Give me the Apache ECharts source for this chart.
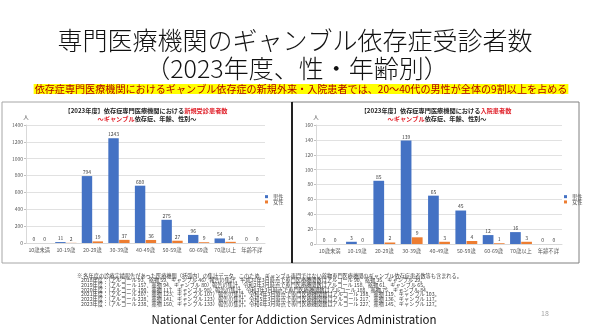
<!DOCTYPE html>
<html><head><meta charset="utf-8">
<script src="https://cdn.jsdelivr.net/npm/echarts@6/dist/echarts.min.js"></script>
<style>html,body{margin:0;padding:0;background:#fff}#c{width:590px;height:331px}</style>
</head><body><div id="c"></div>
<script>
// Age groups shared by both charts
const categories = ['10歳未満', '10-19歳', '20-29歳', '30-39歳', '40-49歳', '50-59歳', '60-69歳', '70歳以上', '年齢不詳'];

// New outpatients (新規受診患者数)
const outpatientMale = [0, 11, 794, 1243, 680, 275, 96, 54, 0];
const outpatientFemale = [0, 2, 19, 37, 36, 27, 9, 14, 0];

// Inpatients (入院患者数)
const inpatientMale = [0, 3, 85, 139, 65, 45, 12, 16, 0];
const inpatientFemale = [0, 0, 2, 9, 3, 4, 1, 3, 0];

// Value-axis ranges
const outpatientAxis = { min: 0, max: 1400, interval: 200 };
const inpatientAxis = { min: 0, max: 160, interval: 20 };

// Footnote lines
const footnotes = [
  '※ 各年度の診療実績報告があった医療機関（括弧内）の集計データ。このため、ギャンブル専門ではない薬物専門医療機関のギャンブル依存症患者数等も含まれる。',
  '2018年度：（アルコール 93、薬物 59、ギャンブル 46）報告の集計。平成31年3月時点で専門医療機関数はアルコール 90、薬物 35、ギャンブル 29。',
  '2019年度：（アルコール 157、薬物 94、ギャンブル 80）報告の集計。令和2年3月時点で専門医療機関数はアルコール 158、薬物 61、ギャンブル 65。',
  '2020年度：（アルコール 190、薬物 117、ギャンブル 98）報告の集計。令和3年3月時点で専門医療機関数はアルコール 188、薬物 75、ギャンブル 84。',
  '2021年度：（アルコール 207、薬物 123、ギャンブル 107）報告の集計。令和4年3月時点で専門医療機関数はアルコール 198、薬物 119、ギャンブル 103。',
  '2022年度：（アルコール 228、薬物 141、ギャンブル 123）報告の集計。令和5年3月時点で専門医療機関数はアルコール 217、薬物 136、ギャンブル 117。',
  '2023年度：（アルコール 238、薬物 150、ギャンブル 133）報告の集計。令和6年3月時点で専門医療機関数はアルコール 227、薬物 145、ギャンブル 127。'
];

const FONT = '"Noto Sans CJK JP", "Noto Sans", sans-serif';
const BLUE = '#4472C4';
const ORANGE = '#ED7D31';
const AXIS_TEXT = '#595959';
const GRID_LINE = '#d9d9d9';

function textEl(x, y, text, size, opts) {
  opts = opts || {};
  return {
    type: 'text', x: x, y: y, silent: true,
    style: Object.assign({
      text: text,
      fontSize: size,
      fontFamily: FONT,
      fontWeight: opts.weight || 'normal',
      fill: opts.color || '#000',
      align: opts.align || 'center', textAlign: opts.align || 'center',
      verticalAlign: 'middle', textVerticalAlign: 'middle'
    }, opts.extra || {})
  };
}

function xAxisCfg(gridIndex) {
  return {
    type: 'category', gridIndex: gridIndex, data: categories,
    axisLine: { lineStyle: { color: GRID_LINE, width: 1 } },
    axisTick: { show: false },
    axisLabel: { color: AXIS_TEXT, fontSize: 5.3, fontFamily: FONT, margin: 4, interval: 0 }
  };
}

function yAxisCfg(gridIndex, range) {
  return {
    type: 'value', gridIndex: gridIndex,
    min: range.min, max: range.max, interval: range.interval,
    name: '人', nameLocation: 'end', nameGap: 5,
    nameTextStyle: { color: AXIS_TEXT, fontSize: 5.5, fontFamily: FONT, align: 'center' },
    axisLine: { show: true, lineStyle: { color: GRID_LINE } },
    axisTick: { show: true, length: 2, lineStyle: { color: '#bfbfbf' } },
    axisLabel: { color: AXIS_TEXT, fontSize: 5, fontFamily: FONT, margin: 3, formatter: function (v) { return String(v); } },
    splitLine: { lineStyle: { color: GRID_LINE, width: 0.8 } }
  };
}

function barSeries(name, data, axisIndex, color) {
  return {
    name: name, type: 'bar', data: data,
    xAxisIndex: axisIndex, yAxisIndex: axisIndex,
    barGap: '4%', barCategoryGap: '20%',
    itemStyle: { color: color },
    label: { show: true, position: 'top', distance: 1.5, fontSize: 5, color: '#404040', fontFamily: FONT },
    animation: false
  };
}

function legendCfg(left) {
  return {
    orient: 'vertical', left: left, top: 194, padding: 0,
    itemWidth: 3, itemHeight: 3, itemGap: 0, icon: 'rect',
    data: ['男性', '女性'],
    textStyle: { fontSize: 5.3, color: AXIS_TEXT, fontFamily: FONT }
  };
}

const chart = echarts.init(document.getElementById('c'), null, { renderer: 'canvas' });

const captionRich = { r: { fill: '#e0202a', color: '#e0202a', fontSize: 6.2, fontWeight: 'bold', fontFamily: FONT } };

chart.setOption({
  animation: false,
  backgroundColor: '#ffffff',
  grid: [
    { left: 26, top: 125, width: 239, height: 118 },
    { left: 316, top: 125, width: 246, height: 119 }
  ],
  xAxis: [xAxisCfg(0), xAxisCfg(1)],
  yAxis: [yAxisCfg(0, outpatientAxis), yAxisCfg(1, inpatientAxis)],
  legend: [legendCfg(265), legendCfg(564)],
  series: [
    barSeries('男性', outpatientMale, 0, BLUE),
    barSeries('女性', outpatientFemale, 0, ORANGE),
    barSeries('男性', inpatientMale, 1, BLUE),
    barSeries('女性', inpatientFemale, 1, ORANGE)
  ],
  graphic: [
    // panel frames
    { type: 'rect', silent: true, shape: { x: 2, y: 102, width: 290, height: 161 }, style: { fill: 'none', stroke: '#a6a6a6', lineWidth: 1 } },
    { type: 'rect', silent: true, shape: { x: 292, y: 102, width: 287, height: 161 }, style: { fill: 'none', stroke: '#808080', lineWidth: 1 } },
    { type: 'line', silent: true, shape: { x1: 292, y1: 102, x2: 292, y2: 263 }, style: { stroke: '#000', lineWidth: 1.6 } },

    // headline
    textEl(295, 40, '専門医療機関のギャンブル依存症受診者数', 25, { color: '#111', weight: 300 }),
    textEl(297, 68, '（2023年度、性・年齢別）', 25, { color: '#111', weight: 300 }),
    textEl(301, 89, '依存症専門医療機関におけるギャンブル依存症の新規外来・入院患者では、20～40代の男性が全体の9割以上を占める', 10.1,
      { color: '#b00000', extra: { backgroundColor: '#ffff00', padding: [0, 1, 0, 1] } }),

    // chart captions
    textEl(146, 110.7, '【2023年度】依存症専門医療機関における{r|新規受診患者数}', 6.2,
      { color: '#262626', weight: 'bold', extra: { rich: captionRich } }),
    textEl(147, 118.3, '{r|～ギャンブル}依存症、年齢、性別～', 6.2,
      { color: '#262626', weight: 'bold', extra: { rich: captionRich } }),
    textEl(436, 110.7, '【2023年度】依存症専門医療機関における{r|入院患者数}', 6.2,
      { color: '#262626', weight: 'bold', extra: { rich: captionRich } }),
    textEl(437, 118.3, '{r|～ギャンブル}依存症、年齢、性別～', 6.2,
      { color: '#262626', weight: 'bold', extra: { rich: captionRich } })
  ]
  .concat(footnotes.map(function (line, i) {
    return textEl(i === 0 ? 77 : 81, 275.6 + i * 4.7, line, 5.2, { color: '#404040', align: 'left' });
  }))
  .concat([
    textEl(294, 320, 'National Center for Addiction Services Administration', 11.5, { color: '#111' }),
    textEl(545, 313, '18', 7, { color: '#a6a6a6' })
  ])
});
</script>
</body></html>
